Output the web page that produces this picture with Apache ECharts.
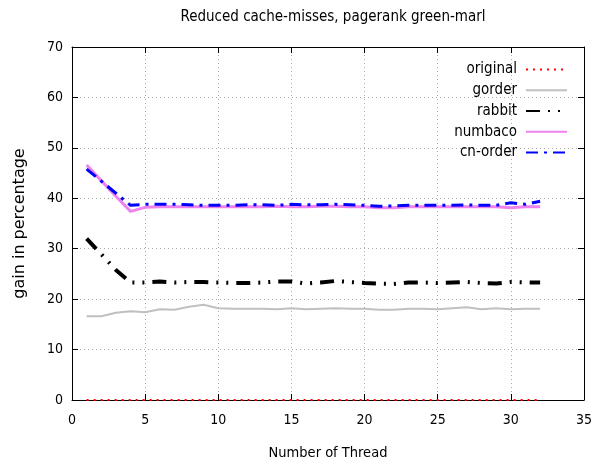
<!DOCTYPE html>
<html><head><meta charset="utf-8">
<script src="https://cdn.jsdelivr.net/npm/echarts@6/dist/echarts.min.js"></script>
<style>html,body{margin:0;padding:0;background:#fff}#c{width:603px;height:467px}</style>
</head><body><div id="c"></div>
<script>
const threads = Array.from({length: 32}, (_, i) => i + 1);
const original = [0,0,0,0,0,0,0,0,0,0,0,0,0,0,0,0,0,0,0,0,0,0,0,0,0,0,0,0,0,0,0,0];
const gorder = [16.6,16.6,17.3,17.6,17.4,18.0,17.9,18.5,18.9,18.2,18.1,18.1,18.1,18.0,18.2,18.0,18.1,18.2,18.1,18.1,17.9,17.9,18.1,18.1,18.0,18.2,18.4,18.0,18.2,18.0,18.1,18.1];
const rabbit = [32.0,28.9,25.8,23.3,23.3,23.5,23.3,23.4,23.4,23.3,23.2,23.2,23.3,23.5,23.5,23.1,23.3,23.6,23.4,23.2,23.1,23.0,23.3,23.3,23.2,23.3,23.4,23.2,23.1,23.4,23.3,23.3];
const numbaco = [46.6,43.5,40.4,37.4,38.2,38.3,38.3,38.3,38.3,38.3,38.3,38.3,38.3,38.4,38.3,38.3,38.4,38.4,38.3,38.3,38.1,38.1,38.3,38.3,38.3,38.3,38.3,38.3,38.3,38.1,38.3,38.3];
const cnorder = [45.8,43.4,41.0,38.6,38.8,38.8,38.8,38.7,38.6,38.6,38.6,38.7,38.7,38.6,38.8,38.7,38.7,38.8,38.7,38.6,38.4,38.5,38.6,38.6,38.6,38.6,38.7,38.6,38.6,39.1,38.8,39.4];
const xTicks = [0,5,10,15,20,25,30,35];
const yTicks = [0,10,20,30,40,50,60,70];

const FONT = '"DejaVu Sans Condensed","DejaVu Sans",sans-serif';
const pair = a => a.map((v, i) => [threads[i], v]);
const chart = echarts.init(document.getElementById('c'), null, {renderer: 'canvas'});
const baseAxis = {
  axisLine: {show: true, onZero: false, lineStyle: {color: '#000', width: 1}},
  axisTick: {show: true, inside: true, length: 6, lineStyle: {color: '#000'}},
};
chart.setOption({
  animation: false,
  backgroundColor: '#fff',
  title: {
    text: 'Reduced cache-misses, pagerank green-marl',
    left: 328, top: 5, textAlign: 'center',
    textStyle: {fontFamily: FONT, fontSize: 15, fontWeight: 'normal', color: '#000'}
  },
  grid: {left: 72, right: 19, top: 47, bottom: 67, containLabel: false},
  legend: {
    orient: 'vertical', right: 30, top: 57, align: 'right',
    itemWidth: 41, itemHeight: 14, itemGap: 5.75,
    itemStyle: {opacity: 0, borderWidth: 0},
    textStyle: {fontFamily: FONT, fontSize: 15, color: '#000', lineHeight: 14, padding: [0, 4, 0, 0]},
    data: ['original', 'gorder', 'rabbit', 'numbaco', 'cn-order']
  },
  xAxis: [{
    ...baseAxis, type: 'value', min: xTicks[0], max: xTicks[xTicks.length - 1], interval: 5,
    name: 'Number of Thread', nameLocation: 'middle', nameGap: 46,
    nameTextStyle: {fontFamily: FONT, fontSize: 14.5, color: '#000'},
    axisLabel: {fontFamily: FONT, fontSize: 14, color: '#000', margin: 13},
    splitLine: {show: true, lineStyle: {color: '#aaa', type: [1, 3], width: 1}}
  }, {
    ...baseAxis, type: 'value', position: 'top', min: 0, max: 35, interval: 5,
    axisLabel: {show: false}, splitLine: {show: false}
  }],
  yAxis: [{
    ...baseAxis, type: 'value', min: yTicks[0], max: yTicks[yTicks.length - 1], interval: 10,
    name: 'gain in percentage', nameLocation: 'middle', nameGap: 44, nameRotate: 90,
    nameTextStyle: {fontFamily: '"DejaVu Sans",sans-serif', fontSize: 16, color: '#000'},
    axisLabel: {fontFamily: FONT, fontSize: 14, color: '#000', margin: 9},
    splitLine: {show: true, lineStyle: {color: '#aaa', type: [1, 3], width: 1}}
  }, {
    ...baseAxis, type: 'value', position: 'right', min: 0, max: 70, interval: 10,
    axisLabel: {show: false}, splitLine: {show: false}
  }],
  series: [
    {name: 'original', type: 'line', data: pair(original), symbol: 'none', z: 5,
     color: '#ff0000', lineStyle: {color: '#ff0000', width: 2, type: [2, 5]}},
    {name: 'gorder', type: 'line', data: pair(gorder), symbol: 'none',
     color: '#c0c0c0', lineStyle: {color: '#c0c0c0', width: 2}},
    {name: 'rabbit', type: 'line', data: pair(rabbit), symbol: 'none',
     color: '#000', lineStyle: {color: '#000', width: 4, type: [14, 8, 2, 8, 2, 8]}},
    {name: 'numbaco', type: 'line', data: pair(numbaco), symbol: 'none',
     color: '#ee82ee', lineStyle: {color: '#ee82ee', width: 3}},
    {name: 'cn-order', type: 'line', data: pair(cnorder), symbol: 'none',
     color: '#0000ff', lineStyle: {color: '#0000ff', width: 3, type: [12, 6, 3, 6]}}
  ]
});
</script></body></html>
